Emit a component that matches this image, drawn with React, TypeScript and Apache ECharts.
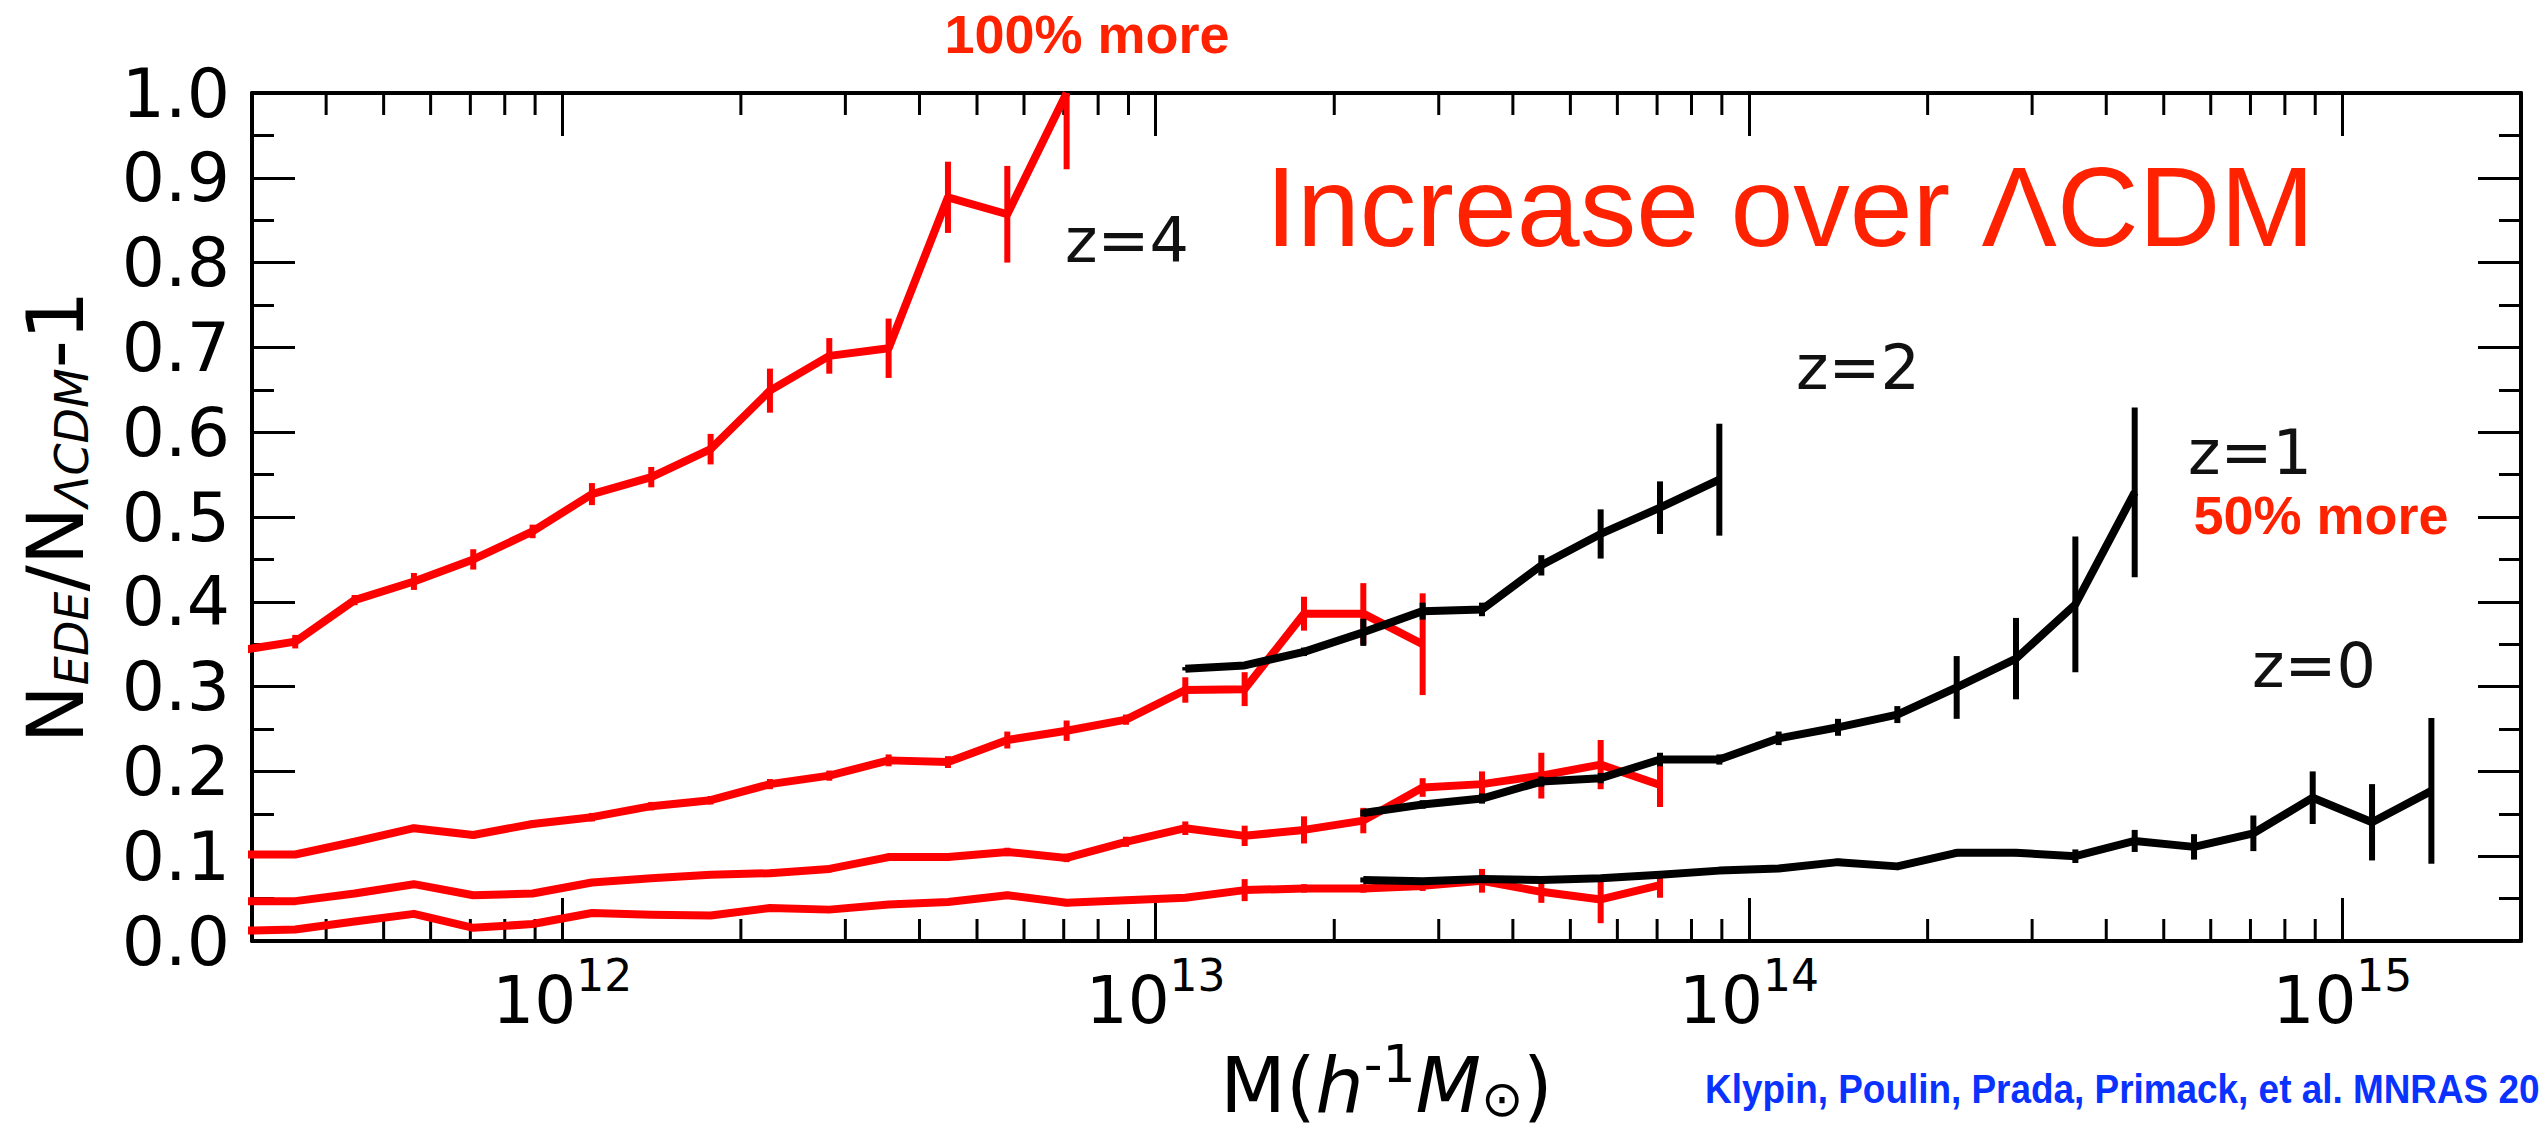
import React, { useEffect, useRef } from "react";
import * as echarts from "echarts";

// ---- data (log10 of halo mass, ratio values, error half-lengths) ----
const LOGM_EDE_Z4 = [11.45, 11.55, 11.65, 11.75, 11.85, 11.95, 12.05, 12.15, 12.25, 12.35, 12.45, 12.55, 12.65, 12.75, 12.85];
const VAL_EDE_Z4 = [0.342, 0.353, 0.402, 0.424, 0.45, 0.483, 0.527, 0.547, 0.58, 0.649, 0.69, 0.699, 0.877, 0.857, 1.0];
const ERR_EDE_Z4 = [0.006, 0.008, 0.006, 0.01, 0.012, 0.008, 0.013, 0.012, 0.018, 0.026, 0.021, 0.035, 0.042, 0.057, 0.09];

const LOGM_EDE_Z2 = [11.45, 11.55, 11.65, 11.75, 11.85, 11.95, 12.05, 12.15, 12.25, 12.35, 12.45, 12.55, 12.65, 12.75, 12.85, 12.95, 13.05, 13.15, 13.25, 13.35, 13.45];
const VAL_EDE_Z2 = [0.102, 0.102, 0.117, 0.133, 0.125, 0.138, 0.146, 0.159, 0.166, 0.185, 0.195, 0.213, 0.211, 0.237, 0.248, 0.261, 0.296, 0.297, 0.386, 0.386, 0.35];
const ERR_EDE_Z2 = [0.004, 0.004, 0.004, 0.004, 0.004, 0.004, 0.005, 0.005, 0.005, 0.006, 0.006, 0.007, 0.007, 0.01, 0.012, 0.006, 0.015, 0.02, 0.02, 0.036, 0.06];

const LOGM_EDE_Z1 = [11.45, 11.55, 11.65, 11.75, 11.85, 11.95, 12.05, 12.15, 12.25, 12.35, 12.45, 12.55, 12.65, 12.75, 12.85, 12.95, 13.05, 13.15, 13.25, 13.35, 13.45, 13.55, 13.65, 13.75, 13.85];
const VAL_EDE_Z1 = [0.047, 0.047, 0.056, 0.067, 0.054, 0.056, 0.069, 0.074, 0.078, 0.08, 0.085, 0.099, 0.099, 0.105, 0.098, 0.117, 0.133, 0.124, 0.131, 0.142, 0.181, 0.185, 0.195, 0.208, 0.184];
const ERR_EDE_Z1 = [0.003, 0.003, 0.003, 0.003, 0.003, 0.003, 0.003, 0.003, 0.003, 0.004, 0.004, 0.004, 0.004, 0.005, 0.005, 0.006, 0.008, 0.012, 0.016, 0.015, 0.011, 0.015, 0.027, 0.029, 0.026];

const LOGM_EDE_Z0 = [11.45, 11.55, 11.65, 11.75, 11.85, 11.95, 12.05, 12.15, 12.25, 12.35, 12.45, 12.55, 12.65, 12.75, 12.85, 12.95, 13.05, 13.15, 13.25, 13.35, 13.45, 13.55, 13.65, 13.75, 13.85];
const VAL_EDE_Z0 = [0.012, 0.0135, 0.023, 0.032, 0.0155, 0.02, 0.033, 0.031, 0.03, 0.039, 0.037, 0.043, 0.046, 0.054, 0.045, 0.048, 0.051, 0.06, 0.062, 0.062, 0.065, 0.071, 0.058, 0.049, 0.066];
const ERR_EDE_Z0 = [0.003, 0.003, 0.003, 0.003, 0.003, 0.003, 0.003, 0.003, 0.003, 0.003, 0.003, 0.003, 0.003, 0.004, 0.004, 0.004, 0.004, 0.013, 0.005, 0.005, 0.006, 0.014, 0.013, 0.028, 0.015];

const LOGM_LCDM_Z2 = [13.05, 13.15, 13.25, 13.35, 13.45, 13.55, 13.65, 13.75, 13.85, 13.95];
const VAL_LCDM_Z2 = [0.321, 0.325, 0.341, 0.364, 0.389, 0.391, 0.443, 0.48, 0.511, 0.544];
const ERR_LCDM_Z2 = [0.002, 0.004, 0.005, 0.016, 0.01, 0.008, 0.012, 0.029, 0.031, 0.066];

const LOGM_LCDM_Z1 = [13.35, 13.45, 13.55, 13.65, 13.75, 13.85, 13.95, 14.05, 14.15, 14.25, 14.35, 14.45, 14.55, 14.65];
const VAL_LCDM_Z1 = [0.151, 0.161, 0.168, 0.188, 0.192, 0.214, 0.214, 0.239, 0.252, 0.267, 0.299, 0.333, 0.397, 0.529];
const ERR_LCDM_Z1 = [0.004, 0.005, 0.006, 0.006, 0.006, 0.008, 0.006, 0.008, 0.01, 0.01, 0.037, 0.048, 0.08, 0.1];

const LOGM_LCDM_Z0 = [13.35, 13.45, 13.55, 13.65, 13.75, 13.85, 13.95, 14.05, 14.15, 14.25, 14.35, 14.45, 14.55, 14.65, 14.75, 14.85, 14.95, 15.05, 15.15];
const VAL_LCDM_Z0 = [0.072, 0.0705, 0.073, 0.072, 0.074, 0.078, 0.083, 0.0855, 0.093, 0.088, 0.104, 0.104, 0.1, 0.118, 0.111, 0.127, 0.169, 0.14, 0.177];
const ERR_LCDM_Z0 = [0.003, 0.003, 0.003, 0.003, 0.003, 0.003, 0.003, 0.003, 0.004, 0.003, 0.004, 0.004, 0.008, 0.013, 0.015, 0.021, 0.031, 0.045, 0.086];

const X_MIN = 3e11;
const X_MAX = 2e15;
const Y_TICK_LABELS = ["0.0", "0.1", "0.2", "0.3", "0.4", "0.5", "0.6", "0.7", "0.8", "0.9", "1.0"];
const DECADES = [11, 12, 13, 14, 15];
const MINOR_MULTIPLIERS = [2, 3, 4, 5, 6, 7, 8, 9];

const RED = "#ff0000";
const BLACK = "#000000";
const NOTE_RED = "#ff2200";
const CITE_BLUE = "#0a32ff";
const DEJAVU = "DejaVu Sans";
const ARIAL = "Liberation Sans, Arial, Helvetica, sans-serif";

function makeCurve(logm: number[], vals: number[], errs: number[], color: string, name: string) {
  const pts = logm.map((l, i) => [Math.pow(10, l), vals[i], errs[i]]);
  return [
    {
      name,
      type: "line",
      data: pts.map((p) => [p[0], p[1]]),
      showSymbol: false,
      symbol: "none",
      clip: true,
      lineStyle: { color, width: 8, join: "round", cap: "butt" },
      itemStyle: { color },
      z: color === RED ? 3 : 5,
      silent: true,
    },
    {
      name: name + " err",
      type: "custom",
      data: pts,
      dimensions: ["x", "y", "e"],
      encode: { x: 0, y: 1 },
      clip: true,
      silent: true,
      z: color === RED ? 3 : 5,
      renderItem: (params: any, api: any) => {
        const x = api.value(0);
        const y = api.value(1);
        const e = api.value(2);
        const lo = api.coord([x, y - e]);
        const hi = api.coord([x, y + e]);
        return {
          type: "line",
          shape: { x1: lo[0], y1: lo[1], x2: hi[0], y2: hi[1] },
          style: { stroke: color, lineWidth: 6 },
        };
      },
    },
  ];
}

export default function App() {
  const ref = useRef<HTMLDivElement>(null);

  useEffect(() => {
    if (!ref.current) return;
    const chart = echarts.init(ref.current, null, { renderer: "svg" });

    const minorTicks: number[][] = [];
    DECADES.forEach((d) =>
      MINOR_MULTIPLIERS.forEach((m) => {
        const v = m * Math.pow(10, d);
        if (v > X_MIN * 1.001 && v < X_MAX * 0.999) minorTicks.push([v, 0]);
      })
    );

    const axisLineStyle = { color: "#000", width: 4 };
    const majorTick = { show: true, inside: true, length: 43, lineStyle: { color: "#000", width: 3 } };
    const minorTick = { show: true, splitNumber: 2, length: 22, lineStyle: { color: "#000", width: 3 } };

    const xLabelFmt = (v: number) => `{b|10}{s|${Math.round(Math.log10(v))}}`;

    const xBase = {
      type: "log",
      logBase: 10,
      min: X_MIN,
      max: X_MAX,
      splitNumber: 5,
      splitLine: { show: false },
      axisLine: { show: true, onZero: false, lineStyle: axisLineStyle },
      axisTick: majorTick,
    };

    const yBase = {
      type: "value",
      min: 0,
      max: 1,
      interval: 0.1,
      splitLine: { show: false },
      minorSplitLine: { show: false },
      axisLine: { show: true, onZero: false, lineStyle: axisLineStyle },
      axisTick: majorTick,
      minorTick,
    };

    const series: any[] = [
      ...makeCurve(LOGM_EDE_Z4, VAL_EDE_Z4, ERR_EDE_Z4, RED, "EDE z=4"),
      ...makeCurve(LOGM_EDE_Z2, VAL_EDE_Z2, ERR_EDE_Z2, RED, "EDE z=2"),
      ...makeCurve(LOGM_EDE_Z1, VAL_EDE_Z1, ERR_EDE_Z1, RED, "EDE z=1"),
      ...makeCurve(LOGM_EDE_Z0, VAL_EDE_Z0, ERR_EDE_Z0, RED, "EDE z=0"),
      ...makeCurve(LOGM_LCDM_Z2, VAL_LCDM_Z2, ERR_LCDM_Z2, BLACK, "z=2"),
      ...makeCurve(LOGM_LCDM_Z1, VAL_LCDM_Z1, ERR_LCDM_Z1, BLACK, "z=1"),
      ...makeCurve(LOGM_LCDM_Z0, VAL_LCDM_Z0, ERR_LCDM_Z0, BLACK, "z=0"),
      {
        name: "minor x ticks",
        type: "custom",
        data: minorTicks,
        encode: { x: 0, y: 1 },
        clip: false,
        silent: true,
        z: 1,
        renderItem: (params: any, api: any) => {
          const p = api.coord([api.value(0), 0]);
          const cs = params.coordSys;
          const bottom = cs.y + cs.height;
          const top = cs.y;
          return {
            type: "group",
            children: [
              { type: "line", shape: { x1: p[0], y1: bottom, x2: p[0], y2: bottom - 22 }, style: { stroke: "#000", lineWidth: 3 } },
              { type: "line", shape: { x1: p[0], y1: top, x2: p[0], y2: top + 22 }, style: { stroke: "#000", lineWidth: 3 } },
            ],
          };
        },
      },
    ];

    const option: any = {
      animation: false,
      backgroundColor: "#ffffff",
      grid: {
        left: 252,
        right: 26,
        top: 93,
        bottom: 199,
        containLabel: false,
        outerBoundsMode: "none",
      },
      xAxis: [
        {
          ...xBase,
          position: "bottom",
          axisLabel: {
            show: true,
            margin: 12,
            showMinLabel: false,
            showMaxLabel: false,
            formatter: xLabelFmt,
            rich: {
              b: { fontSize: 66, fontFamily: DEJAVU, color: "#000", lineHeight: 80, verticalAlign: "bottom" },
              s: { fontSize: 44, fontFamily: DEJAVU, color: "#000", lineHeight: 44, verticalAlign: "top" },
            },
          },
          name: "{r|M(}{i|h}{sup|-1}{i|M}{sub|⊙}{r|)}",
          nameLocation: "middle",
          nameGap: 68,
          nameTextStyle: {
            rich: {
              r: { fontSize: 76, fontFamily: DEJAVU, color: "#000", lineHeight: 86, verticalAlign: "bottom" },
              i: { fontSize: 76, fontFamily: DEJAVU, fontStyle: "italic", color: "#000", lineHeight: 86, verticalAlign: "bottom" },
              sup: { fontSize: 52, fontFamily: DEJAVU, color: "#000", lineHeight: 52, verticalAlign: "top" },
              sub: { fontSize: 50, fontFamily: DEJAVU, color: "#000", lineHeight: 46, verticalAlign: "bottom" },
            },
          },
        },
        {
          ...xBase,
          position: "top",
          axisLabel: { show: false },
        },
      ],
      yAxis: [
        {
          ...yBase,
          position: "left",
          axisLabel: {
            show: true,
            margin: 22,
            fontSize: 68,
            fontFamily: DEJAVU,
            color: "#000",
            formatter: (v: number) => Y_TICK_LABELS[Math.round(v * 10)] ?? v.toFixed(1),
          },
          name: "{n|N}{s|EDE}{n|/N}{s|ΛCDM}{n|-1}",
          nameLocation: "middle",
          nameRotate: 90,
          nameGap: 157,
          nameTextStyle: {
            rich: {
              n: { fontSize: 78, fontFamily: DEJAVU, color: "#000", lineHeight: 96, verticalAlign: "bottom" },
              s: { fontSize: 46, fontFamily: DEJAVU, fontStyle: "italic", color: "#000", lineHeight: 50, verticalAlign: "bottom" },
            },
          },
        },
        {
          ...yBase,
          position: "right",
          axisLabel: { show: false },
        },
      ],
      series,
      graphic: [
        {
          type: "text",
          x: 1087,
          y: 34,
          style: { text: "100% more", fontSize: 54, fontWeight: "bold", fontFamily: ARIAL, fill: NOTE_RED, align: "center", verticalAlign: "middle", textAlign: "center", textVerticalAlign: "middle" },
        },
        {
          type: "text",
          x: 1790,
          y: 207,
          style: { text: "Increase over ΛCDM", fontSize: 113, fontFamily: ARIAL, fill: NOTE_RED, align: "center", verticalAlign: "middle", textAlign: "center", textVerticalAlign: "middle" },
        },
        {
          type: "text",
          x: 1127,
          y: 240,
          style: { text: "z=4", fontSize: 62, fontFamily: DEJAVU, fill: "#111", align: "center", verticalAlign: "middle", textAlign: "center", textVerticalAlign: "middle" },
        },
        {
          type: "text",
          x: 1858,
          y: 367,
          style: { text: "z=2", fontSize: 62, fontFamily: DEJAVU, fill: "#111", align: "center", verticalAlign: "middle", textAlign: "center", textVerticalAlign: "middle" },
        },
        {
          type: "text",
          x: 2250,
          y: 452,
          style: { text: "z=1", fontSize: 62, fontFamily: DEJAVU, fill: "#111", align: "center", verticalAlign: "middle", textAlign: "center", textVerticalAlign: "middle" },
        },
        {
          type: "text",
          x: 2321,
          y: 515,
          style: { text: "50% more", fontSize: 54, fontWeight: "bold", fontFamily: ARIAL, fill: NOTE_RED, align: "center", verticalAlign: "middle", textAlign: "center", textVerticalAlign: "middle" },
        },
        {
          type: "text",
          x: 2314,
          y: 665,
          style: { text: "z=0", fontSize: 62, fontFamily: DEJAVU, fill: "#111", align: "center", verticalAlign: "middle", textAlign: "center", textVerticalAlign: "middle" },
        },
        {
          type: "text",
          x: 1705,
          y: 1089,
          scaleX: 0.9,
          style: { text: "Klypin, Poulin, Prada, Primack, et al. MNRAS 20", x: 0, y: 0, fontSize: 41, fontWeight: "bold", fontFamily: ARIAL, fill: CITE_BLUE, align: "left", verticalAlign: "middle", textAlign: "left", textVerticalAlign: "middle" },
        },
      ],
    };

    chart.setOption(option);
    return () => chart.dispose();
  }, []);

  return (
    <div
      ref={ref}
      style={{ position: "absolute", left: 0, top: 0, width: 2547, height: 1140, background: "#fff" }}
    />
  );
}
